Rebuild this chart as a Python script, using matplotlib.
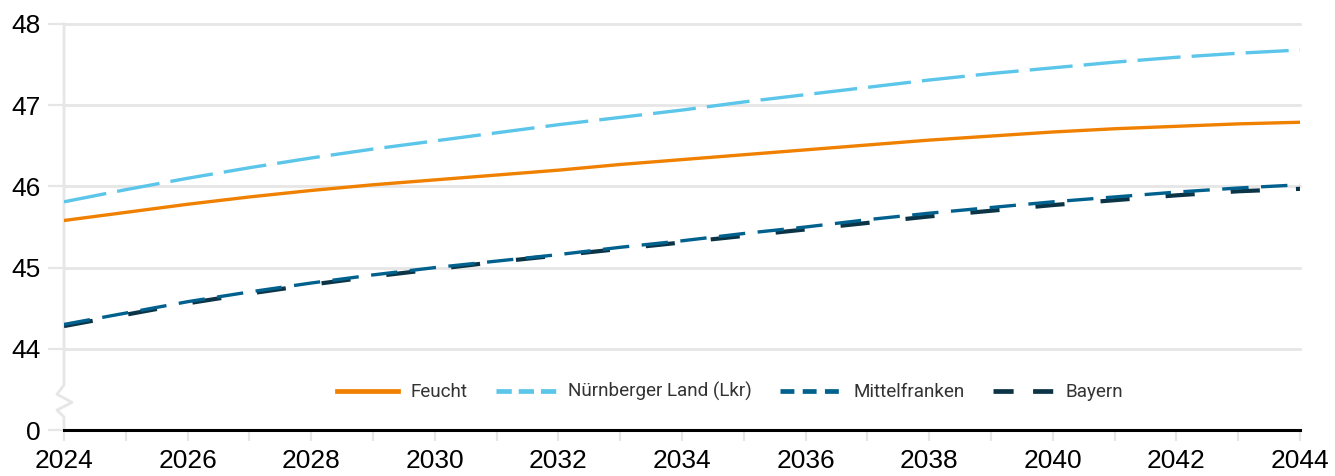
import numpy as np
import matplotlib.pyplot as plt
from matplotlib.lines import Line2D

years = list(range(2024, 2045))

feucht = [45.58, 45.68, 45.78, 45.87, 45.95, 46.02, 46.08, 46.14, 46.20, 46.27, 46.33,
          46.39, 46.45, 46.51, 46.57, 46.62, 46.67, 46.71, 46.74, 46.77, 46.79]
nuernberger_land = [45.81, 45.96, 46.10, 46.23, 46.35, 46.46, 46.56, 46.66, 46.76, 46.85, 46.94,
                    47.04, 47.13, 47.22, 47.31, 47.39, 47.46, 47.53, 47.59, 47.64, 47.68]
mittelfranken = [44.30, 44.44, 44.58, 44.70, 44.81, 44.91, 45.00, 45.08, 45.16, 45.25, 45.33,
                 45.42, 45.50, 45.59, 45.67, 45.74, 45.81, 45.87, 45.93, 45.98, 46.02]
bayern = [44.28, 44.42, 44.56, 44.68, 44.79, 44.89, 44.98, 45.07, 45.15, 45.23, 45.31,
          45.39, 45.47, 45.55, 45.63, 45.70, 45.77, 45.83, 45.89, 45.94, 45.97]

labels = ['Feucht', 'Nürnberger Land (Lkr)', 'Mittelfranken', 'Bayern']
colors = ['#F08000', '#5BC5EA', '#00618E', '#0B3447']

# broken axis: the "0" tick sits one unit below 44
ytick_pos = [43, 44, 45, 46, 47, 48]
ytick_labels = ['0', '44', '45', '46', '47', '48']
xtick_labels = list(range(2024, 2045, 2))

plt.rcParams['font.family'] = ['Liberation Sans', 'DejaVu Sans']
plt.rcParams['lines.scale_dashes'] = False

fig = plt.figure(figsize=(13.35, 4.76), dpi=100)
ax = fig.add_axes([64 / 1335, 46 / 476, 1236 / 1335, 406 / 476])

lw = 2.4
ax.plot(years, feucht, color=colors[0], lw=lw)
ax.plot(years, nuernberger_land, color=colors[1], lw=lw, dashes=(31, 8))
ax.plot(years, bayern, color=colors[3], lw=lw + 0.6, dashes=(21, 26), zorder=3)
ax.plot(years, mittelfranken, color=colors[2], lw=lw, dashes=(19, 9), zorder=4)

ax.set_xlim(2024, 2044)
ax.set_ylim(43, 48)
ax.set_yticks(ytick_pos)
ax.set_yticklabels(ytick_labels)
ax.set_xticks(xtick_labels)
ax.set_xticks(years, minor=True)

for s in ['top', 'right', 'left', 'bottom']:
    ax.spines[s].set_visible(False)

grid_col = '#E6E6E6'
for y in ytick_pos[1:]:
    ax.axhline(y, color=grid_col, lw=2, zorder=0, clip_on=False)
ax.axhline(43, color='black', lw=2.2, zorder=5, clip_on=False)

ax.tick_params(axis='y', length=11.5, width=1.6, color=grid_col, pad=5, labelsize=19)
ax.tick_params(axis='x', which='both', length=8, width=1.6, color=grid_col, pad=6, labelsize=19)

# y axis line with zigzag break
zx = [0, 0, -0.0057, 0.0065, -0.0057, 0, 0]
zy = [1, 0.111, 0.088, 0.068, 0.049, 0.032, 0]
ax.plot(zx, zy, transform=ax.transAxes, color=grid_col, lw=2, clip_on=False, zorder=1)

# legend symbols use shorter dashes than the lines
handles = [
    Line2D([], [], color=colors[0], lw=3.4),
    Line2D([], [], color=colors[1], lw=3.4, dashes=(11, 5)),
    Line2D([], [], color=colors[2], lw=3.4, dashes=(10, 6)),
    Line2D([], [], color=colors[3], lw=3.4, dashes=(14.5, 14)),
]
leg = ax.legend(handles, labels, ncol=4, loc='center',
                bbox_to_anchor=(0.539, 0.094), frameon=False, handlelength=3.2,
                columnspacing=1.5, handletextpad=0.65,
                prop={'family': 'Roboto', 'size': 13.6})
for t in leg.get_texts():
    t.set_color('#333333')

fig.savefig('out.png', dpi=100)
